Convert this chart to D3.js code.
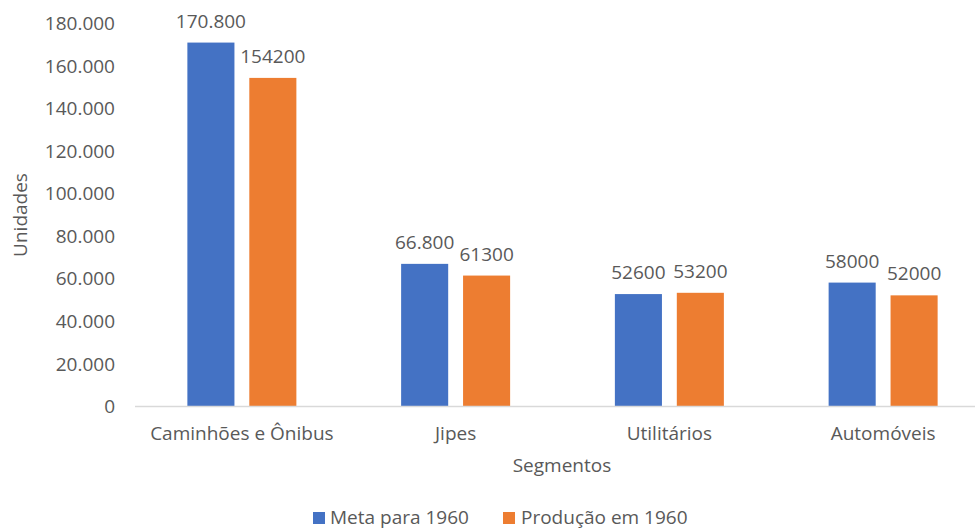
<!DOCTYPE html>
<html><head><meta charset="utf-8">
<script src="https://cdn.jsdelivr.net/npm/d3@7"></script>
<style>body{margin:0;background:#fff}svg{display:block}text{font-family:"Open Sans",sans-serif;fill:#595959}</style>
</head><body><svg id="c" width="975" height="531"></svg>
<script>
const categories = ["Caminhões e Ônibus", "Jipes", "Utilitários", "Automóveis"];
const seriesNames = ["Meta para 1960", "Produção em 1960"];
const metaValues = [170800, 66800, 52600, 58000];
const producaoValues = [154200, 61300, 53200, 52000];
const metaLabels = ["170.800", "66.800", "52600", "58000"];
const producaoLabels = ["154200", "61300", "53200", "52000"];
const yTicks = [0, 20000, 40000, 60000, 80000, 100000, 120000, 140000, 160000, 180000];
const yTickLabels = ["0", "20.000", "40.000", "60.000", "80.000", "100.000", "120.000", "140.000", "160.000", "180.000"];
const colors = ["#4472C4", "#ED7D31"];
const FS = 19;

const svg = d3.select("#c");
const x0 = d3.scaleBand().domain(categories).range([135, 990]).paddingInner(0).paddingOuter(0);
const y = d3.scaleLinear().domain([0, 180000]).range([406, 23]);
const groupW = 109;
const x1 = d3.scaleBand().domain(seriesNames).range([0, groupW]).paddingInner(0.24);

// y axis tick labels
const yAxis = d3.axisLeft(y).tickValues(yTicks).tickFormat((d,i)=>yTickLabels[i]).tickSize(0).tickPadding(0);
const gy = svg.append("g").attr("transform","translate(115,0)").call(yAxis);
gy.select(".domain").remove();
gy.selectAll("text").attr("font-size",FS).style("font-family",'"Open Sans",sans-serif').attr("fill","#595959").attr("dy","0.35em");

const series = [
  {name: seriesNames[0], values: metaValues, labels: metaLabels},
  {name: seriesNames[1], values: producaoValues, labels: producaoLabels}
];

series.forEach((s, si) => {
  const g = svg.append("g");
  categories.forEach((c, ci) => {
    const bx = x0(c) + (x0.bandwidth() - groupW) / 2 + x1(s.name);
    g.append("rect").attr("x", bx).attr("y", y(s.values[ci]))
      .attr("width", x1.bandwidth()).attr("height", y(0) - y(s.values[ci]))
      .attr("fill", colors[si]);
    g.append("text").attr("x", bx + x1.bandwidth()/2).attr("y", y(s.values[ci]) - 15)
      .attr("text-anchor","middle").attr("font-size",FS).text(s.labels[ci]);
  });
});

// x axis
svg.append("line").attr("x1",135).attr("x2",990).attr("y1",406.5).attr("y2",406.5)
  .attr("stroke","#d9d9d9").attr("stroke-width",1.5);
const xAxis = d3.axisBottom(x0).tickSize(0).tickPadding(0);
const gx = svg.append("g").attr("transform","translate(0,440)").call(xAxis);
gx.select(".domain").remove();
gx.selectAll("text").attr("font-size",FS).style("font-family",'"Open Sans",sans-serif').attr("fill","#595959").attr("dy","0");

// axis titles
svg.append("text").attr("x",562).attr("y",472).attr("text-anchor","middle").attr("font-size",FS).text("Segmentos");
svg.append("text").attr("transform","translate(27,215) rotate(-90)").attr("text-anchor","middle").attr("font-size",FS).text("Unidades");

// legend
const legend = [{x:313, tx:330},{x:503, tx:521}];
seriesNames.forEach((n,i)=>{
  svg.append("rect").attr("x",legend[i].x).attr("y",512).attr("width",12).attr("height",12).attr("fill",colors[i]);
  svg.append("text").attr("x",legend[i].tx).attr("y",524).attr("font-size",FS).text(n);
});
</script></body></html>
